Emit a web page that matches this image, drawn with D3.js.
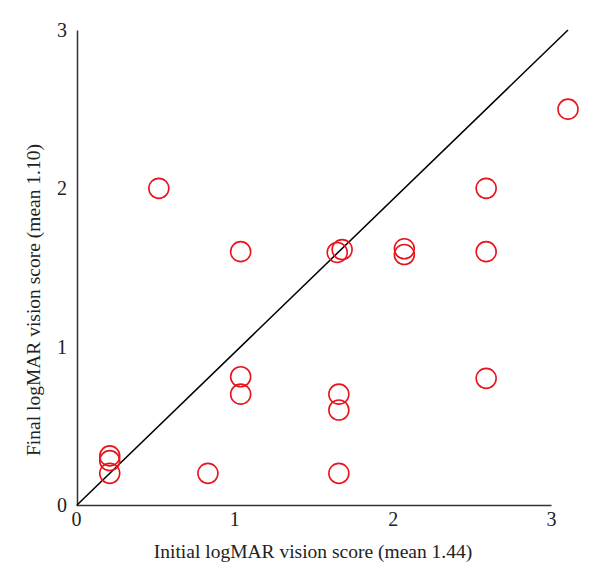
<!DOCTYPE html>
<html>
<head>
<meta charset="utf-8">
<script src="https://cdn.jsdelivr.net/npm/d3@7"></script>
<style>
  body { margin: 0; background: #fff; }
  text { font-family: "Liberation Serif", "DejaVu Serif", serif; fill: #222; }
</style>
</head>
<body>
<svg width="600" height="578"></svg>
<script>
// initial vs final logMAR, one entry per eye
var initial = [0.2, 0.2, 0.2, 0.5, 0.8, 1.0, 1.0, 1.0, 1.59, 1.62, 1.6, 1.6, 1.6, 2.0, 2.0, 2.5, 2.5, 2.5, 3.0];
var final   = [0.31, 0.28, 0.2, 2.0, 0.2, 1.6, 0.81, 0.7, 1.595, 1.613, 0.7, 0.6, 0.2, 1.618, 1.582, 2.0, 1.6, 0.8, 2.5];
var ticks = [0, 1, 2, 3];
var xTitle = 'Initial logMAR vision score (mean 1.44)';
var yTitle = 'Final logMAR vision score (mean 1.10)';

var svg = d3.select('svg');

// data scale runs a bit wider than the drawn axis, as in the original figure
var xScale = d3.scaleLinear().domain([0, 3]).range([77, 568]);
var xAxisScale = d3.scaleLinear().domain([0, 3]).range([76, 551]);
var yScale = d3.scaleLinear().domain([0, 3]).range([505, 30]);

var xAxis = svg.append('g')
  .attr('transform', 'translate(0,505)')
  .call(d3.axisBottom(xAxisScale).tickValues(ticks).tickFormat(d3.format('d')).tickSize(0).tickPadding(7));

var yAxis = svg.append('g')
  .attr('transform', 'translate(77,0)')
  .call(d3.axisLeft(yScale).tickValues(ticks).tickFormat(d3.format('d')).tickSize(0).tickPadding(10));

[xAxis, yAxis].forEach(g => {
  g.select('.domain').attr('stroke', '#333').attr('stroke-width', 1.5);
  g.selectAll('text')
    .attr('font-size', 20)
    .attr('font-family', '"Liberation Serif", serif')
    .attr('fill', '#222');
});

// line of equality
svg.append('line')
  .attr('x1', xScale(0))
  .attr('y1', yScale(0))
  .attr('x2', xScale(3))
  .attr('y2', yScale(3))
  .attr('stroke', '#000')
  .attr('stroke-width', 1.5);

svg.selectAll('circle')
  .data(initial)
  .enter()
  .append('circle')
  .attr('cx', d => xScale(d))
  .attr('cy', (d, i) => yScale(final[i]))
  .attr('r', 10)
  .attr('fill', 'none')
  .attr('stroke', '#e8141c')
  .attr('stroke-width', 1.6);

svg.append('text')
  .attr('x', 313)
  .attr('y', 558)
  .attr('text-anchor', 'middle')
  .attr('font-size', 19.5)
  .text(xTitle);

svg.append('text')
  .attr('transform', 'translate(40,300) rotate(-90)')
  .attr('text-anchor', 'middle')
  .attr('font-size', 19.5)
  .text(yTitle);
</script>
</body>
</html>
